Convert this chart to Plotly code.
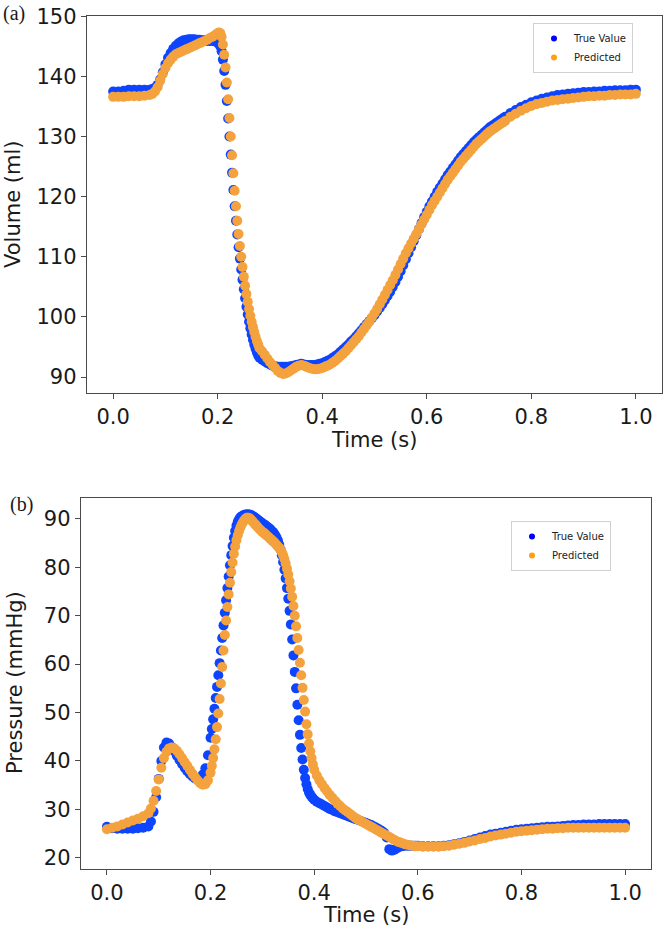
import plotly.graph_objects as go

# ---------------- sampling grids (time in s) ----------------
def seg(start, stop, step):
    n = int(round((stop - start) / step)) + 1
    return [round(start + i * step, 4) for i in range(n)]

vol_time = (seg(0.0, 0.07, 0.01) + seg(0.075, 0.2, 0.005) + seg(0.2025, 0.28, 0.0025)
            + seg(0.285, 0.75, 0.005) + seg(0.76, 1.0, 0.01))
pres_time = (seg(0.0, 0.08, 0.01) + seg(0.085, 0.2, 0.005) + seg(0.2025, 0.4, 0.0025)
             + seg(0.405, 0.6, 0.005) + seg(0.61, 1.0, 0.01))

# ---------------- (a) Volume (ml) ----------------
vol_true = [
    137.5, 137.5, 137.6, 137.8, 137.8, 137.8, 137.8, 137.8,
    137.9, 138.1, 138.6, 139.5, 140.7, 142.0, 143.1, 143.9, 144.6, 145.1,
    145.5, 145.8, 146.0, 146.1, 146.2, 146.2, 146.2, 146.1, 146.1, 146.0,
    146.0, 145.9, 145.9, 145.9, 145.8, 145.6,
    145.4, 145.0, 144.2, 142.8, 140.9, 138.6, 135.9, 133.0, 130.0, 127.0,
    124.0, 121.1, 118.4, 116.0, 113.7, 111.6, 109.7, 107.9, 106.2, 104.6,
    103.1, 101.7, 100.4, 99.2, 98.1, 97.1, 96.2, 95.4, 94.7, 94.1, 93.6, 93.2,
    92.9, 92.6, 92.3, 92.1, 91.9, 91.8, 91.7, 91.7, 91.7, 91.7,
    91.7, 91.8, 91.9, 92.0, 92.1, 92.2, 92.1, 92.0, 92.0, 92.0,
    92.0, 92.1, 92.2, 92.3, 92.5, 92.7, 92.9, 93.2, 93.5, 93.8,
    94.2, 94.6, 95.0, 95.4, 95.9, 96.3, 96.8, 97.3, 97.8, 98.3,
    98.8, 99.3, 99.8, 100.3, 100.9, 101.5, 102.1, 102.8, 103.5, 104.2,
    105.0, 105.8, 106.7, 107.6, 108.6, 109.6, 110.6, 111.6, 112.6, 113.6,
    114.6, 115.6, 116.6, 117.5, 118.4, 119.2, 120.0, 120.8, 121.5, 122.2,
    122.9, 123.6, 124.2, 124.8, 125.4, 126.0, 126.6, 127.1, 127.6, 128.1,
    128.6, 129.1, 129.5, 129.9, 130.3, 130.7, 131.1, 131.5, 131.8, 132.1,
    132.4, 132.7, 133.0, 133.3,
    133.9, 134.4, 134.9, 135.3, 135.7, 136.0, 136.3, 136.5, 136.7, 136.9,
    137.0, 137.1, 137.2, 137.3, 137.4, 137.4, 137.5, 137.5, 137.6, 137.6,
    137.7, 137.7, 137.7, 137.8, 137.8,
]
vol_pred = [
    136.6, 136.6, 136.6, 136.7, 136.7, 136.7, 136.8, 136.9,
    137.1, 137.5, 138.2, 139.3, 140.4, 141.4, 142.2, 142.8, 143.3, 143.7,
    143.9, 144.1, 144.3, 144.5, 144.7, 144.9, 145.1, 145.3, 145.5, 145.7,
    145.9, 146.1, 146.4, 146.6, 146.9, 147.2,
    147.3, 147.2, 146.6, 145.3, 143.6, 141.5, 139.0, 136.2, 133.1, 130.0,
    126.9, 123.9, 121.0, 118.4, 116.0, 113.8, 111.8, 110.0, 108.3, 106.7,
    105.2, 103.8, 102.5, 101.3, 100.2, 99.2, 98.3, 97.5, 96.7, 96.0, 95.4, 94.8,
    94.3, 93.7, 93.1, 92.5, 92.0, 91.5, 91.0, 90.7, 90.5, 90.6,
    90.8, 91.1, 91.4, 91.7, 91.9, 92.0, 91.9, 91.7, 91.5, 91.4,
    91.3, 91.3, 91.4, 91.5, 91.7, 91.9, 92.1, 92.4, 92.7, 93.1,
    93.5, 93.9, 94.3, 94.8, 95.3, 95.8, 96.3, 96.8, 97.4, 98.0,
    98.6, 99.2, 99.9, 100.6, 101.3, 102.1, 102.9, 103.7, 104.5, 105.3,
    106.1, 107.0, 107.9, 108.8, 109.7, 110.6, 111.4, 112.2, 113.0, 113.8,
    114.6, 115.4, 116.2, 117.0, 117.8, 118.6, 119.3, 120.0, 120.7, 121.4,
    122.1, 122.8, 123.4, 124.0, 124.6, 125.2, 125.8, 126.3, 126.8, 127.3,
    127.8, 128.3, 128.8, 129.2, 129.6, 130.0, 130.4, 130.8, 131.1, 131.4,
    131.7, 132.0, 132.3, 132.6,
    133.3, 133.8, 134.3, 134.7, 135.1, 135.4, 135.6, 135.8, 136.0, 136.1,
    136.2, 136.3, 136.4, 136.5, 136.6, 136.7, 136.7, 136.8, 136.8, 136.9,
    136.9, 137.0, 137.0, 137.0, 137.1,
]

# ---------------- (b) Pressure (mmHg) ----------------
pres_true = [
    26.4, 26.1, 26.0, 26.0, 26.0, 26.0, 26.1, 26.2, 26.5,
    27.5, 29.5, 32.5, 36.3, 40.0, 42.8, 43.8, 43.6, 42.9, 42.0,
    41.1, 40.2, 39.4, 38.6, 37.9, 37.3, 36.8, 36.4, 36.2, 36.3,
    37.2, 38.5, 41.2, 44.8,
    46.6, 48.6, 50.8, 53.0, 55.3, 57.7, 60.2, 62.8, 65.4, 68.0,
    70.6, 73.2, 75.7, 78.1, 80.4, 82.5, 84.4, 86.1, 87.5, 88.6,
    89.4, 89.9, 90.3, 90.5, 90.7, 90.8, 90.9, 90.9, 90.9, 90.9,
    90.8, 90.7, 90.5, 90.3, 90.1, 89.9, 89.7, 89.5, 89.3, 89.1,
    88.9, 88.7, 88.5, 88.3, 88.1, 87.9, 87.6, 87.3, 87.0, 86.6,
    86.1, 85.5, 84.7, 83.7, 82.5, 81.1, 79.5, 77.7, 75.7, 73.5,
    71.0, 68.2, 65.1, 61.8, 58.4, 55.0, 51.6, 48.4, 45.4, 42.7,
    40.3, 38.2, 36.5, 35.2, 34.2, 33.5, 33.0, 32.6, 32.3, 32.0,
    31.6, 31.3, 31.0, 30.7, 30.4, 30.1, 29.9, 29.6, 29.4, 29.2,
    29.0, 28.8, 28.6, 28.4, 28.2, 28.0, 27.8, 27.6, 27.4, 27.2,
    27.0, 26.8, 26.5, 26.2, 25.9, 25.6, 25.2, 24.2, 21.8, 21.5,
    21.7, 22.0, 22.3, 22.4, 22.5, 22.5, 22.5, 22.5, 22.5, 22.5,
    22.4, 22.4, 22.4, 22.4, 22.5, 22.6, 22.8, 23.0, 23.3, 23.6,
    23.9, 24.2, 24.5, 24.8, 25.0, 25.2, 25.4, 25.6, 25.8, 25.9,
    26.0, 26.1, 26.2, 26.3, 26.4, 26.4, 26.5, 26.6, 26.7, 26.8,
    26.8, 26.9, 26.9, 26.9, 27.0, 27.0, 27.0, 27.0, 27.0, 27.0,
]
pres_pred = [
    25.9, 26.2, 26.5, 26.9, 27.3, 27.7, 28.1, 28.6, 29.2,
    30.2, 31.8, 33.8, 36.2, 38.6, 40.6, 41.9, 42.6, 42.8, 42.6,
    42.1, 41.4, 40.6, 39.8, 39.0, 38.2, 37.4, 36.7, 36.0, 35.4,
    35.1, 35.2, 36.0, 37.6,
    39.0, 40.6, 42.4, 44.5, 47.0, 49.8, 52.8, 56.0, 59.4, 62.8,
    66.0, 69.0, 71.8, 74.4, 76.8, 79.0, 81.0, 82.8, 84.3, 85.6,
    86.6, 87.5, 88.2, 88.8, 89.3, 89.7, 90.0, 90.2, 90.2, 90.1,
    89.9, 89.6, 89.3, 89.0, 88.7, 88.4, 88.1, 87.8, 87.6, 87.3,
    87.1, 86.9, 86.6, 86.4, 86.2, 85.9, 85.7, 85.4, 85.2, 84.9,
    84.6, 84.3, 84.0, 83.6, 83.1, 82.5, 81.7, 80.8, 79.7, 78.5,
    77.1, 75.6, 73.9, 72.0, 70.0, 67.8, 65.4, 62.9, 60.3, 57.7,
    55.1, 52.6, 50.2, 47.6, 45.5, 43.6, 42.0, 40.6, 39.3, 38.2,
    37.0, 36.0, 35.2, 34.4, 33.7, 33.0, 32.4, 31.8, 31.2, 30.7,
    30.2, 29.8, 29.4, 29.0, 28.6, 28.2, 27.9, 27.6, 27.3, 27.0,
    26.7, 26.4, 26.1, 25.8, 25.5, 25.2, 24.9, 24.6, 24.3, 24.0,
    23.7, 23.4, 23.2, 23.0, 22.8, 22.7, 22.6, 22.5, 22.4, 22.4,
    22.3, 22.3, 22.3, 22.3, 22.4, 22.5, 22.7, 22.9, 23.1, 23.4,
    23.6, 23.9, 24.1, 24.4, 24.6, 24.8, 25.0, 25.2, 25.4, 25.5,
    25.6, 25.7, 25.8, 25.9, 26.0, 26.0, 26.1, 26.1, 26.2, 26.2,
    26.2, 26.2, 26.2, 26.2, 26.2, 26.2, 26.2, 26.2, 26.2, 26.2,
]

x_ticks = [0.0, 0.2, 0.4, 0.6, 0.8, 1.0]
vol_ticks = [90, 100, 110, 120, 130, 140, 150]
pres_ticks = [20, 30, 40, 50, 60, 70, 80, 90]
series_names = ["True Value", "Predicted"]

for name, a, b in [("vol_true", vol_true, vol_time), ("vol_pred", vol_pred, vol_time),
                   ("pres_true", pres_true, pres_time), ("pres_pred", pres_pred, pres_time)]:
    assert len(a) == len(b), f"{name}: {len(a)} values vs {len(b)} times"

# ---------------- styling ----------------
W, H = 668, 932
BLUE = "#0d45ff"
ORANGE = "#f4a23e"
FONT = "DejaVu Sans"
MS = 10
TXT = 21

def px_x(p):
    return p / W

def px_y(p):
    return 1 - p / H

fig = go.Figure()

# top panel traces
fig.add_trace(go.Scatter(x=vol_time, y=vol_true, mode="markers", xaxis="x", yaxis="y",
                         marker=dict(color=BLUE, size=MS, line=dict(width=0)), showlegend=False))
fig.add_trace(go.Scatter(x=vol_time, y=vol_pred, mode="markers", xaxis="x", yaxis="y",
                         marker=dict(color=ORANGE, size=MS, line=dict(width=0)), showlegend=False))
fig.add_trace(go.Scatter(x=[None], y=[None], mode="markers", name=series_names[0], xaxis="x", yaxis="y",
                         marker=dict(color="#0000ff", size=6), legend="legend"))
fig.add_trace(go.Scatter(x=[None], y=[None], mode="markers", name=series_names[1], xaxis="x", yaxis="y",
                         marker=dict(color="#ffa010", size=6), legend="legend"))

# bottom panel traces
fig.add_trace(go.Scatter(x=pres_time, y=pres_true, mode="markers", xaxis="x2", yaxis="y2",
                         marker=dict(color=BLUE, size=MS, line=dict(width=0)), showlegend=False))
fig.add_trace(go.Scatter(x=pres_time, y=pres_pred, mode="markers", xaxis="x2", yaxis="y2",
                         marker=dict(color=ORANGE, size=MS, line=dict(width=0)), showlegend=False))
fig.add_trace(go.Scatter(x=[None], y=[None], mode="markers", name=series_names[0], xaxis="x2", yaxis="y2",
                         marker=dict(color="#0000ff", size=6), legend="legend2"))
fig.add_trace(go.Scatter(x=[None], y=[None], mode="markers", name=series_names[1], xaxis="x2", yaxis="y2",
                         marker=dict(color="#ffa010", size=6), legend="legend2"))

axis_common = dict(
    showline=True, linecolor="#4a4a4a", linewidth=1.4, mirror=True,
    ticks="outside", ticklen=5, tickwidth=1.2, tickcolor="#4a4a4a",
    showgrid=False, zeroline=False, automargin=False,
    tickfont=dict(family=FONT, size=TXT, color="#1a1a1a"),
)

legend_common = dict(
    bgcolor="white", bordercolor="#d0d0d0", borderwidth=1,
    font=dict(family=FONT, size=10, color="#222"),
    itemwidth=30, tracegroupgap=0,
    xanchor="right", yanchor="top",
)

def label(text, x, y, size=TXT, family=FONT, angle=0):
    return dict(text=text, x=px_x(x), y=px_y(y), xref="paper", yref="paper",
                xanchor="center", yanchor="middle", textangle=angle, showarrow=False,
                font=dict(family=family, size=size, color="#1a1a1a"))

fig.update_layout(
    width=W, height=H,
    margin=dict(l=0, r=0, t=0, b=0, autoexpand=False),
    paper_bgcolor="white", plot_bgcolor="white",
    xaxis=dict(domain=[px_x(87), px_x(662)], range=[-0.05, 1.05], anchor="y",
               tickvals=x_ticks, tickformat=".1f", **axis_common),
    yaxis=dict(domain=[px_y(393), px_y(16)], range=[87.35, 150.05], anchor="x",
               tickvals=vol_ticks, **axis_common),
    xaxis2=dict(domain=[px_x(81), px_x(651)], range=[-0.05, 1.05], anchor="y2",
                tickvals=x_ticks, tickformat=".1f", **axis_common),
    yaxis2=dict(domain=[px_y(869), px_y(498)], range=[17.7, 94.3], anchor="x2",
                tickvals=pres_ticks, **axis_common),
    legend=dict(x=px_x(633), y=px_y(23), **legend_common),
    legend2=dict(x=px_x(611), y=px_y(521), **legend_common),
    annotations=[
        label("(a)", 14, 14, size=20, family="Liberation Serif"),
        label("(b)", 21, 504, size=20, family="Liberation Serif"),
        label("Volume (ml)", 13, 205, angle=-90),
        label("Time (s)", 374, 440),
        label("Pressure (mmHg)", 15, 683, angle=-90),
        label("Time (s)", 366, 915),
    ],
)

fig.write_html("out.html", config={"displayModeBar": False},
               post_script="document.body.style.margin='0';")
